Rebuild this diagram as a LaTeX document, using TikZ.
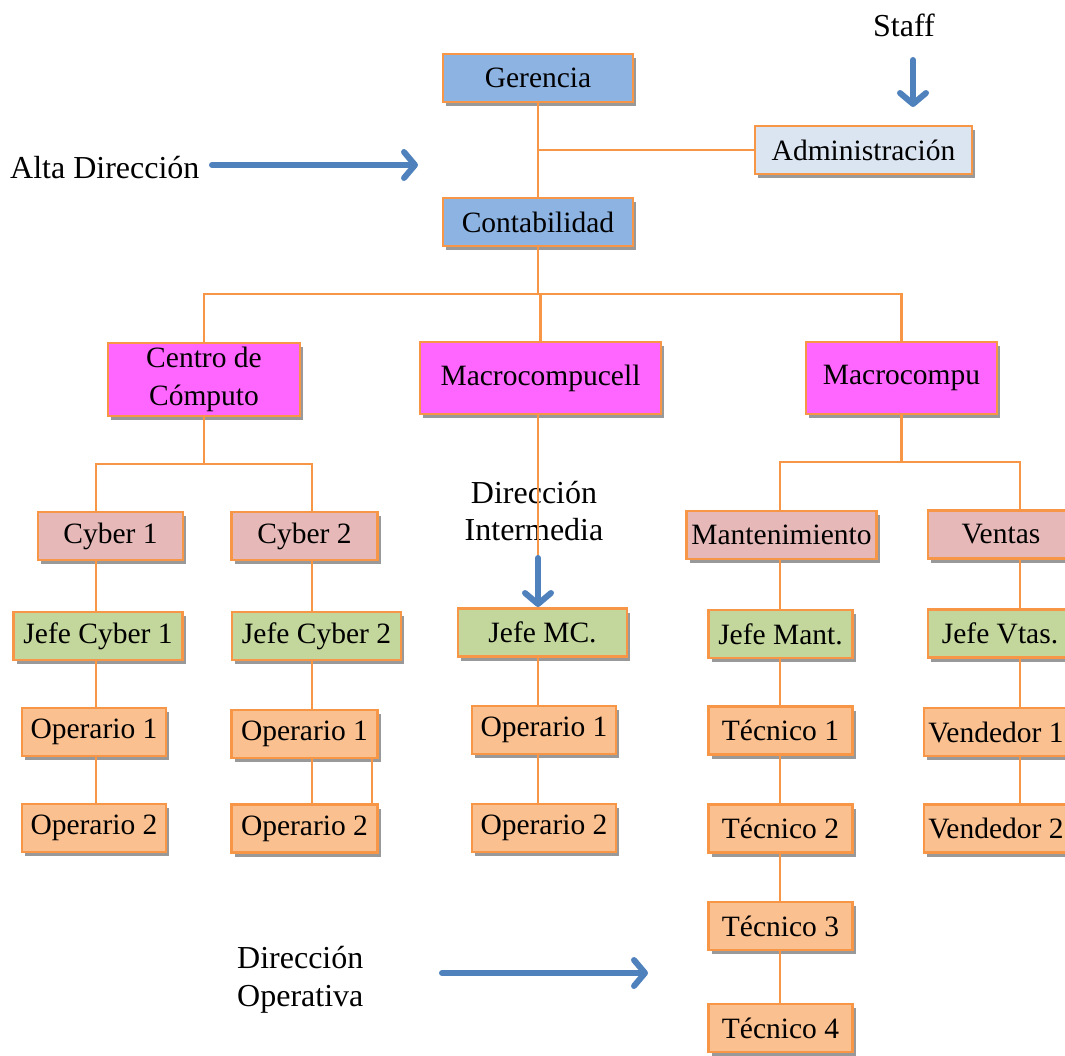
\documentclass[tikz,border=0pt]{standalone}
\usepackage{fontspec}
\setmainfont{Liberation Serif}
\usetikzlibrary{shadows,arrows.meta,calc}
\definecolor{ornline}{HTML}{F79646}
\definecolor{gerB}{HTML}{8DB3E2}
\definecolor{admB}{HTML}{DBE5F1}
\definecolor{magB}{HTML}{FF66FF}
\definecolor{pinkB}{HTML}{E6B9B8}
\definecolor{greenB}{HTML}{C3D69B}
\definecolor{peachB}{HTML}{FAC090}
\definecolor{arrowblue}{HTML}{4F81BD}
\begin{document}
\begin{tikzpicture}[x=1pt,y=-1pt,
  font=\fontsize{29.5}{38}\selectfont,
  box/.style={draw=ornline, line width=2.4pt, inner sep=2pt, align=center,
    drop shadow={shadow xshift=3pt, shadow yshift=-4pt, fill=black!40, opacity=1}},
  sz/.style 2 args={minimum width=#1pt, minimum height=#2pt},
  conn/.style={draw=ornline, line width=2.5pt},
  barrow/.style={draw=arrowblue, line width=6pt, line cap=round,
    -{Straight Barb[length=11pt,width=26pt,round]}},
  lbl/.style={inner sep=0pt, align=center, font=\fontsize{32}{37.5}\selectfont}]
\useasboundingbox (0,0) rectangle (1065,1056);
\clip (0,0) rectangle (1065,1056);

% free labels (drawn first: connectors pass over them)
\node[lbl, anchor=west] (alta) at (10,168) {Alta Dirección};
\node[lbl] (staff) at (904,25) {Staff};
\node[lbl] (dint) at (534,511) {Dirección\\Intermedia};
\node[lbl, align=left, anchor=west] (dop) at (237,980) {Dirección\\Operativa};

% boxes
\node[box, fill=gerB, sz={190}{48}] (ger) at (538,78) {Gerencia};
\node[box, fill=admB, sz={217}{48}] (adm) at (863.5,150) {Administración};
\node[box, fill=gerB, sz={190}{48}] (cont) at (538,222) {Contabilidad};

\node[box, fill=magB, sz={192}{73}] (cen) at (204,379.5) {Centro de\\Cómputo};
\node[box, fill=magB, sz={241}{72}] (mcc) at (540.5,378) {Macrocompucell};
\node[box, fill=magB, sz={191}{72}] (mc) at (901.5,378) {Macrocompu};

\node[box, fill=pinkB, sz={145}{48}] (cy1) at (110.5,536) {Cyber 1};
\node[box, fill=pinkB, sz={146}{48}] (cy2) at (304.5,536) {Cyber 2};
\node[box, fill=pinkB, sz={190}{48}] (man) at (781.5,535) {Mantenimiento};
\node[box, fill=pinkB, sz={146}{48}] (ven) at (1001,534.5) {Ventas};

\node[box, fill=greenB, sz={169}{48}] (jc1) at (98,636) {Jefe Cyber 1};
\node[box, fill=greenB, sz={169}{48}] (jc2) at (316.5,636) {Jefe Cyber 2};
\node[box, fill=greenB, sz={169}{48}] (jmc) at (542.5,632.5) {Jefe MC.};
\node[box, fill=greenB, sz={144}{48}] (jma) at (780.5,634) {Jefe Mant.};
\node[box, fill=greenB, sz={144}{48}] (jve) at (1000,633.5) {Jefe Vtas.};

\node[box, fill=peachB, sz={144}{48}] (o1a) at (94,732) {Operario 1};
\node[box, fill=peachB, sz={146}{48}] (o1b) at (304.5,734) {Operario 1};
\node[box, fill=peachB, sz={144}{48}] (o1c) at (544,730) {Operario 1};
\node[box, fill=peachB, sz={144}{48}] (t1) at (780.5,730.5) {Técnico 1};
\node[box, fill=peachB, sz={144}{48}] (v1) at (996,732) {Vendedor 1};

\node[box, fill=peachB, sz={144}{48}] (o2a) at (94,828) {Operario 2};
\node[box, fill=peachB, sz={146}{48}] (o2b) at (304.5,828.5) {Operario 2};
\node[box, fill=peachB, sz={144}{48}] (o2c) at (544,828) {Operario 2};
\node[box, fill=peachB, sz={144}{48}] (t2) at (780.5,828.5) {Técnico 2};
\node[box, fill=peachB, sz={144}{48}] (v2) at (996,828.5) {Vendedor 2};

\node[box, fill=peachB, sz={144}{48}] (t3) at (780.5,926) {Técnico 3};
\node[box, fill=peachB, sz={144}{48}] (t4) at (780.5,1028) {Técnico 4};

% helper coordinates
\coordinate (busT) at (540,294);
\coordinate (busA) at (0,464);
\coordinate (busR) at (0,462);
\coordinate (colA) at (96,0);
\coordinate (colB) at (312,0);
\coordinate (colB2) at (372,0);
\coordinate (colC) at (538,0);
\coordinate (colD) at (780,0);
\coordinate (colE) at (1020,0);

% connectors
\draw[conn] (ger.south) -- (cont.north);
\draw[conn] (adm.west) -- (adm.west -| ger.south);
\draw[conn] (cont.south) -- (cont.south |- busT);
\draw[conn] (cen.north) |- (busT) -| (mc.north);
\draw[conn] (mcc.north) -- (mcc.north |- busT);

\draw[conn] (cen.south) -- (cen.south |- busA);
\draw[conn] (colA |- cy1.north) -- (colA |- busA) -- (colB |- busA) -- (colB |- cy2.north);
\draw[conn] (colA |- cy1.south) -- (colA |- jc1.north);
\draw[conn] (colA |- jc1.south) -- (colA |- o1a.north);
\draw[conn] (colA |- o1a.south) -- (colA |- o2a.north);
\draw[conn] (colB |- cy2.south) -- (colB |- jc2.north);
\draw[conn] (colB |- jc2.south) -- (colB |- o1b.north);
\draw[conn] (colB |- o1b.south) -- (colB |- o2b.north);
\draw[conn] (colB2 |- o1b.south) -- (colB2 |- o2b.north);

\draw[conn] (mcc.south -| colC) -- (colC |- jmc.north);
\draw[conn] (colC |- jmc.south) -- (colC |- o1c.north);
\draw[conn] (colC |- o1c.south) -- (colC |- o2c.north);

\draw[conn] (mc.south) -- (mc.south |- busR);
\draw[conn] (colD |- man.north) -- (colD |- busR) -- (colE |- busR) -- (colE |- ven.north);
\draw[conn] (colD |- man.south) -- (colD |- jma.north);
\draw[conn] (colD |- jma.south) -- (colD |- t1.north);
\draw[conn] (colD |- t1.south) -- (colD |- t2.north);
\draw[conn] (colD |- t2.south) -- (colD |- t3.north);
\draw[conn] (colD |- t3.south) -- (colD |- t4.north);
\draw[conn] (colE |- ven.south) -- (colE |- jve.north);
\draw[conn] (colE |- jve.south) -- (colE |- v1.north);
\draw[conn] (colE |- v1.south) -- (colE |- v2.north);

% blue arrows
\coordinate (a1s) at (212,165);
\coordinate (a1e) at (418,165);
\coordinate (a2s) at (913,60);
\coordinate (a2e) at (913,107);
\coordinate (a3s) at (538,558);
\coordinate (a3e) at (538,607);
\coordinate (a4s) at (442,973);
\coordinate (a4e) at (648,973);
\draw[barrow] (a1s) -- (a1e);
\draw[barrow] (a2s) -- (a2e);
\draw[barrow] (a3s) -- (a3e);
\draw[barrow] (a4s) -- (a4e);
\end{tikzpicture}
\end{document}
